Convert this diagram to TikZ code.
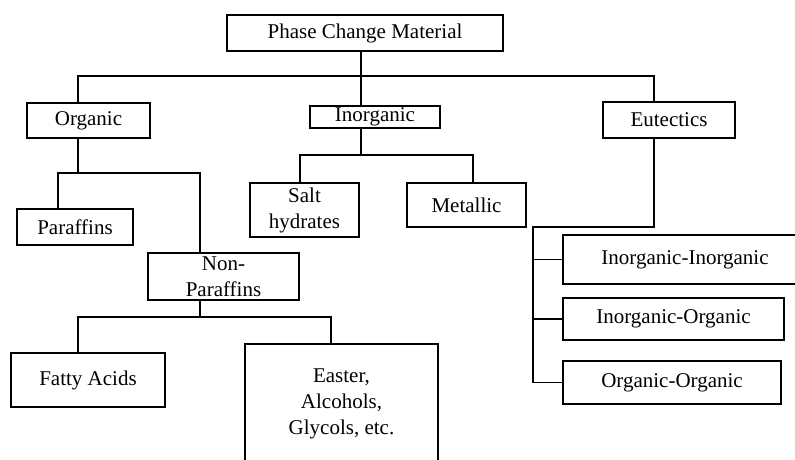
\documentclass[tikz,border=0pt]{standalone}
\usepackage{fontspec}
\setmainfont{Liberation Serif}

\begin{document}
\begin{tikzpicture}[x=1pt,y=-1pt,
    box/.style={draw, line width=1.8pt, align=center, inner sep=0pt,
        font=\fontsize{21}{26}\selectfont},
    link/.style={line width=1.8pt}]
\useasboundingbox (0,0) rectangle (795,459);
\clip (0,0) rectangle (795,459);

% boxes
\node [box, minimum width=276, minimum height=36] (pcm) at (365,33) {Phase Change Material};
\node [box, minimum width=123, minimum height=35] (org) at (88.5,120.5) {Organic};
\node [box, minimum width=130, minimum height=22] (inorg) at (375,117) {Inorganic};
\node [box, minimum width=132, minimum height=36] (eut) at (669,120) {Eutectics};
\node [box, minimum width=116, minimum height=36] (par) at (75,227) {Paraffins};
\node [box, minimum width=151, minimum height=47] (nonpar) at (223.5,276.5) {Non-\\Paraffins};
\node [box, minimum width=109, minimum height=54] (salt) at (304.5,210) {Salt\\hydrates};
\node [box, minimum width=119, minimum height=44] (met) at (466.5,205) {Metallic};
\node [box, minimum width=154, minimum height=54] (fatty) at (88,380) {Fatty Acids};
\node [box, minimum width=193, minimum height=120] (easter) at (341.5,404) {Easter,\\Alcohols,\\Glycols, etc.};
\node [box, minimum width=244, minimum height=49] (ii) at (685,259.5) {Inorganic-Inorganic};
\node [box, minimum width=221, minimum height=42] (io) at (673.5,319) {Inorganic-Organic};
\node [box, minimum width=218, minimum height=43] (oo) at (672,382.5) {Organic-Organic};

% junctions
\coordinate (b1) at (361,76);
\coordinate (b2) at (78,173);
\coordinate (b3) at (200,317);
\coordinate (b4) at (361,155);
\coordinate (b5) at (533,227);

% connectors
\draw [link] ([xshift=-4]pcm.south) -- ([xshift=-14]inorg.north);
\draw [link] ([xshift=-10.5]org.north) |- (b1) -| ([xshift=-15]eut.north);

\draw [link] ([xshift=-10.5]org.south) -- (b2);
\draw [link] ([xshift=-17]par.north) |- (b2) -| ([xshift=-23.5]nonpar.north);

\draw [link] ([xshift=-23.5]nonpar.south) -- (b3);
\draw [link] ([xshift=-10]fatty.north) |- (b3) -| ([xshift=-10.5]easter.north);

\draw [link] ([xshift=-14]inorg.south) -- (b4);
\draw [link] ([xshift=-4.5]salt.north) |- (b4) -| ([xshift=6.5]met.north);

\draw [link] ([xshift=-15]eut.south) |- (b5) |- (oo.west);
\draw [link] (b5 |- ii.west) -- (ii.west);
\draw [link] (b5 |- io.west) -- (io.west);
\end{tikzpicture}
\end{document}
